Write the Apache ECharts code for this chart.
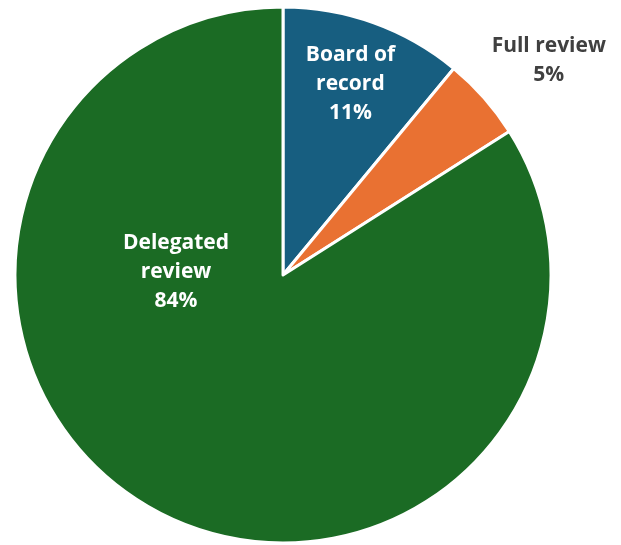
<!DOCTYPE html>
<html>
<head>
<meta charset="utf-8">
<script src="https://cdn.jsdelivr.net/npm/echarts@6/dist/echarts.min.js"></script>
<style>
  html, body { margin: 0; padding: 0; background: #fff; }
  #pieChart { width: 621px; height: 545px; }
</style>
</head>
<body>
<div id="pieChart"></div>
<script>
// slice names and shares (percent)
let names = ['Board of\nrecord', 'Full review', 'Delegated\nreview'];
let values = [11, 5, 84];
let colors = ['#175e80', '#e97132', '#1b6b24'];

// label nudges away from the default inside position
let offsets = [[21, -62], [163, -124], [-41, -123]];
let labelColors = ['#ffffff', '#404040', '#ffffff'];

let pieChart = echarts.init(document.getElementById('pieChart'));

let data = values.map(function (v, i) {
  return {
    name: names[i],
    value: v,
    itemStyle: { color: colors[i] },
    label: { offset: offsets[i], color: labelColors[i] }
  };
});

let option = {
  animation: false,
  series: [
    {
      type: 'pie',
      center: [283, 275],
      radius: [0, 268],
      startAngle: 90,
      clockwise: true,
      avoidLabelOverlap: false,
      itemStyle: {
        borderColor: '#ffffff',
        borderWidth: 3
      },
      label: {
        show: true,
        position: 'inside',
        formatter: '{b}\n{c}%',
        fontFamily: 'Open Sans',
        fontWeight: 'bold',
        fontSize: 21,
        lineHeight: 29,
        align: 'center'
      },
      labelLine: { show: false },
      emphasis: { disabled: true },
      data: data
    }
  ]
};

pieChart.setOption(option);
</script>
</body>
</html>
